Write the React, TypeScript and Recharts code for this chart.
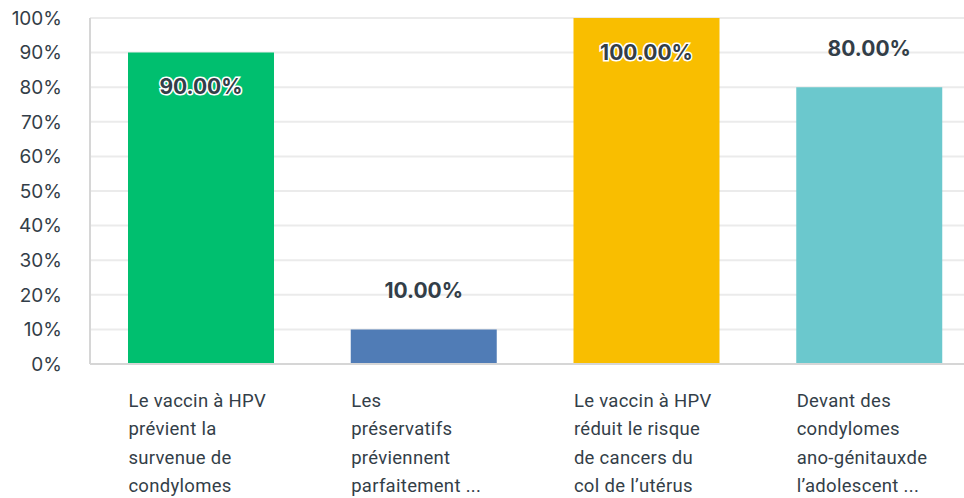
import React from 'react';
import { Bar, BarChart, CartesianGrid, Cell, LabelList, XAxis, YAxis } from 'recharts';

const categories = [
  'Le vaccin à HPV prévient la survenue de condylomes',
  'Les préservatifs préviennent parfaitement ...',
  "Le vaccin à HPV réduit le risque de cancers du col de l’utérus",
  'Devant des condylomes ano-génitauxde l’adolescent ...',
];

const categoryLines = [
  ['Le vaccin à HPV', 'prévient la', 'survenue de', 'condylomes'],
  ['Les', 'préservatifs', 'préviennent', 'parfaitement ...'],
  ['Le vaccin à HPV', 'réduit le risque', 'de cancers du', 'col de l’utérus'],
  ['Devant des', 'condylomes', 'ano-génitauxde', 'l’adolescent ...'],
];

const values = [90, 10, 100, 80];

const barColors = ['#00bf6f', '#507cb6', '#f9be00', '#6bc8cd'];

const yTicks = [0, 10, 20, 30, 40, 50, 60, 70, 80, 90, 100];

const data = categories.map((name, i) => ({ name, value: values[i], index: i }));

const TEXT = '#333e48';
const BAR_SIZE = 146;

const CategoryTick = ({ x, y, payload }: any) => {
  const lines = categoryLines[payload.index] || [];
  return (
    <g>
      {lines.map((line, i) => (
        <text
          key={i}
          x={x - BAR_SIZE / 2}
          y={y + 36 + i * 28.5}
          fill={TEXT}
          fontSize={18.5}
          letterSpacing={0.3}
          fontFamily="Roboto, sans-serif"
          textAnchor="start"
          dominantBaseline="middle"
        >
          {line}
        </text>
      ))}
    </g>
  );
};

const ValueLabel = ({ x, y, width, value }: any) => {
  const inside = value >= 90;
  const cx = x + width / 2;
  const cy = inside ? y + 36 : y - 37;
  const label = `${Number(value).toFixed(2)}%`;
  return (
    <text
      x={cx}
      y={cy}
      fill={TEXT}
      stroke={inside ? '#ffffff' : 'none'}
      strokeWidth={inside ? 3 : 0}
      paintOrder="stroke"
      fontSize={21}
      fontWeight={700}
      fontFamily="Inter, sans-serif"
      textAnchor="middle"
      dominantBaseline="middle"
    >
      {label}
    </text>
  );
};

export default function App() {
  return (
    <div style={{ width: 964, height: 498, overflow: 'hidden', background: '#fff' }}>
      <style>{'body{margin:0}'}</style>
      <BarChart
        width={981}
        height={498}
        data={data}
        margin={{ top: 18, right: 0, left: 0, bottom: 0 }}
      >
        <CartesianGrid horizontal vertical={false} stroke="#ebebeb" strokeWidth={2} />
        <XAxis
          dataKey="name"
          height={134}
          axisLine={{ stroke: '#d6d6d6', strokeWidth: 2 }}
          tickLine={false}
          tickSize={0}
          interval={0}
          tick={<CategoryTick />}
        />
        <YAxis
          width={90}
          domain={[0, 100]}
          ticks={yTicks}
          tickFormatter={(v: number) => `${v}%`}
          axisLine={{ stroke: '#d6d6d6', strokeWidth: 2 }}
          tickLine={false}
          tickSize={0}
          tickMargin={28}
          tick={{ fill: TEXT, fontSize: 19, fontFamily: 'Inter, sans-serif' }}
        />
        <Bar dataKey="value" barSize={BAR_SIZE} isAnimationActive={false}>
          {data.map((d, i) => (
            <Cell key={i} fill={barColors[i]} />
          ))}
          <LabelList dataKey="value" content={<ValueLabel />} />
        </Bar>
      </BarChart>
    </div>
  );
}
